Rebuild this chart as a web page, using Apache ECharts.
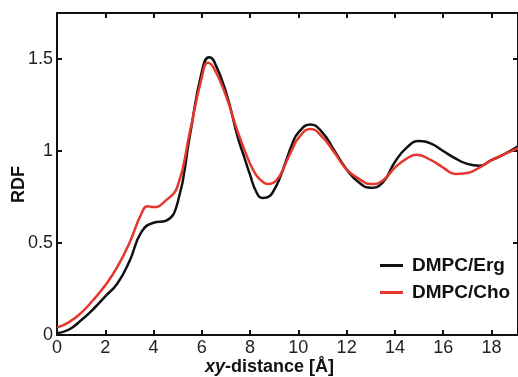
<!DOCTYPE html>
<html>
<head>
<meta charset="utf-8">
<script src="https://cdn.jsdelivr.net/npm/echarts@6/dist/echarts.min.js"></script>
<style>
html,body{margin:0;padding:0;background:#fff;}
#chart{width:518px;height:377px;}
</style>
</head>
<body>
<div id="chart"></div>
<script>
// Data
var xErg = [0,0.5,1,1.5,2,2.5,3,3.5,4,4.5,5,5.5,6,6.3,6.5,7,7.5,7.75,8,8.25,8.5,8.75,9,9.25,9.5,9.75,10,10.5,11,11.5,12,12.5,13,13.5,14,14.5,15,15.5,16,16.5,17,17.5,18,18.5,19.1];
var yErg = [0.01,0.03,0.08,0.14,0.21,0.28,0.40,0.56,0.61,0.62,0.72,1.08,1.43,1.51,1.49,1.32,1.07,0.97,0.87,0.78,0.745,0.75,0.79,0.86,0.95,1.04,1.10,1.144,1.10,1.00,0.90,0.83,0.80,0.83,0.94,1.02,1.054,1.04,1.00,0.96,0.93,0.92,0.95,0.98,1.025];
var xCho = [0,0.5,1,1.5,2,2.5,3,3.5,3.75,4,4.5,5,5.5,6,6.25,6.5,7,7.5,8,8.25,8.5,8.75,9,9.25,9.5,9.75,10,10.5,11,11.5,12,12.5,13,13.5,14,14.5,14.9,15.5,16,16.5,17,17.5,18,18.5,19.1];
var yCho = [0.04,0.07,0.12,0.19,0.27,0.37,0.50,0.66,0.70,0.695,0.73,0.81,1.10,1.40,1.48,1.45,1.30,1.10,0.93,0.87,0.835,0.82,0.83,0.87,0.94,1.01,1.07,1.12,1.075,0.99,0.90,0.85,0.82,0.84,0.91,0.96,0.98,0.95,0.91,0.875,0.88,0.91,0.95,0.98,1.015];
var seriesNames = ['DMPC/Erg','DMPC/Cho'];
var yTitle = 'RDF';

function pairs(xs, ys){ return xs.map(function(x,i){ return [x, ys[i]]; }); }

var chart = echarts.init(document.getElementById('chart'), null, {renderer:'canvas'});
var axisFont = {fontFamily:'Liberation Sans, Arial, sans-serif', fontSize:18, color:'#222'};
var lineStyleAxis = {color:'#111', width:2};
function axisCommon(extra){
  return Object.assign({
    axisLine:{show:true, onZero:false, lineStyle:lineStyleAxis},
    axisTick:{show:true, inside:true, length:5, lineStyle:lineStyleAxis},
    splitLine:{show:false}
  }, extra);
}
chart.setOption({
  backgroundColor:'#fff',
  animation:false,
  grid:{left:57, right:-2, top:13, bottom:42},
  xAxis:[
    axisCommon({type:'value', min:0, max:19.1, interval:2, position:'bottom',
      axisLabel:Object.assign({margin:4, showMaxLabel:false}, axisFont)}),
    axisCommon({type:'value', min:0, max:19.1, interval:2, position:'top', axisLabel:{show:false}})
  ],
  yAxis:[
    axisCommon({type:'value', min:0, max:1.75, interval:0.5, position:'left',
      axisLabel:Object.assign({margin:4, showMaxLabel:false}, axisFont)}),
    axisCommon({type:'value', min:0, max:1.75, interval:0.5, position:'right', axisLabel:{show:false}})
  ],
  legend:{
    orient:'vertical', left:375, top:251, itemGap:8,
    itemWidth:23, itemHeight:3, icon:'rect',
    textStyle:{fontFamily:'Liberation Sans, Arial, sans-serif', fontSize:19, fontWeight:'bold', color:'#111', padding:[0,0,0,4]},
    data:seriesNames
  },
  graphic:[
    {type:'text', left:205, top:358, style:{
      text:'{i|xy}{b|-distance [Å]}',
      rich:{
        i:{font:'italic bold 18px "Liberation Sans", Arial, sans-serif', fill:'#111'},
        b:{font:'bold 18px "Liberation Sans", Arial, sans-serif', fill:'#111'}
      }}},
    {type:'text', rotation:Math.PI/2, x:10, y:203, style:{text:yTitle, font:'bold 18px "Liberation Sans", Arial, sans-serif', fill:'#111'}}
  ],
  series:[
    {name:seriesNames[0], type:'line', smooth:0.5, showSymbol:false, data:pairs(xErg,yErg), lineStyle:{color:'#111', width:2.5}, itemStyle:{color:'#111'}, z:2},
    {name:seriesNames[1], type:'line', smooth:0.5, showSymbol:false, data:pairs(xCho,yCho), lineStyle:{color:'#e5372c', width:2.5}, itemStyle:{color:'#e5372c'}, z:3}
  ]
});
</script>
</body>
</html>
